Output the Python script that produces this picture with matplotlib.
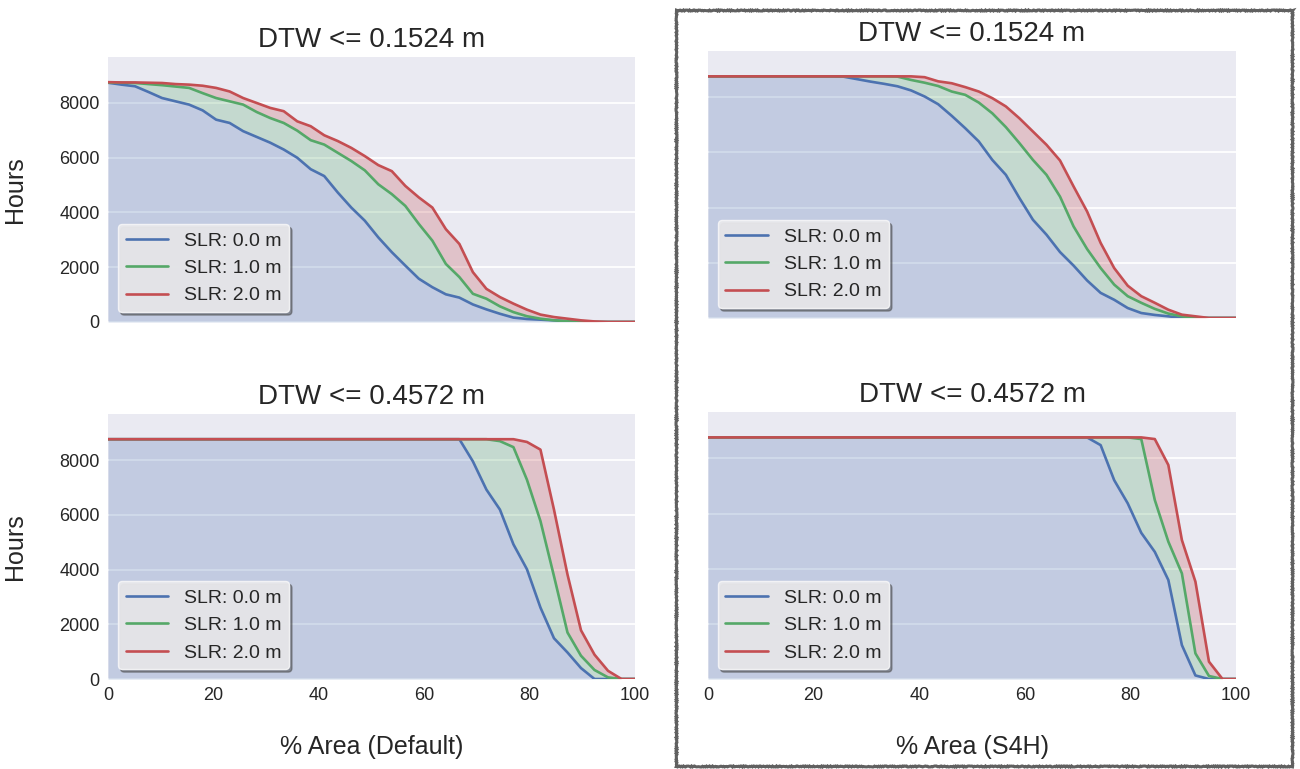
import numpy as np
import matplotlib.pyplot as plt
from matplotlib.patches import Rectangle

plt.style.use("seaborn-v0_8-darkgrid")
plt.rcParams['font.family'] = ['Liberation Sans', 'DejaVu Sans']

# percent of area, 40 samples
area = np.linspace(0, 100, 40)

labels = ["SLR: 0.0 m", "SLR: 1.0 m", "SLR: 2.0 m"]
titles = ["DTW <= 0.1524 m", "DTW <= 0.4572 m"]
xlabels = ["% Area (Default)", "% Area (S4H)"]
colors = ["#4C72B0", "#55A868", "#C44E52"]

# hours exceeded, default model, DTW <= 0.1524 m
def_015_slr0 = [8740, 8670, 8610, 8400, 8180, 8060, 7940, 7730, 7390, 7270,
                6970, 6760, 6550, 6300, 6000, 5580, 5330, 4730, 4180, 3700,
                3090, 2550, 2060, 1580, 1270, 1010, 890, 640, 460, 300,
                160, 110, 85, 60, 25, 0, 0, 0, 0, 0]
def_015_slr1 = [8740, 8740, 8730, 8690, 8650, 8600, 8550, 8360, 8180, 8060,
                7940, 7670, 7450, 7270, 6990, 6640, 6480, 6180, 5880, 5540,
                5030, 4670, 4240, 3580, 2970, 2120, 1640, 1030, 850, 570,
                360, 210, 120, 60, 25, 0, 0, 0, 0, 0]
def_015_slr2 = [8760, 8750, 8750, 8740, 8730, 8690, 8670, 8630, 8550, 8420,
                8180, 8000, 7820, 7700, 7330, 7150, 6820, 6610, 6360, 6060,
                5730, 5510, 4970, 4550, 4180, 3390, 2850, 1820, 1210, 910,
                670, 450, 270, 180, 120, 60, 20, 0, 0, 0]

# S4H model, DTW <= 0.1524 m
s4h_015_slr0 = [8760, 8760, 8760, 8760, 8760, 8760, 8760, 8760, 8760, 8760,
                8750, 8660, 8570, 8490, 8400, 8250, 8030, 7750, 7330, 6880,
                6400, 5730, 5190, 4350, 3560, 3020, 2390, 1900, 1360, 910,
                660, 360, 180, 110, 60, 0, 0, 0, 0, 0]
s4h_015_slr1 = [8760, 8760, 8760, 8760, 8760, 8760, 8760, 8760, 8760, 8760,
                8760, 8760, 8760, 8760, 8750, 8630, 8530, 8410, 8210, 8090,
                7810, 7420, 6920, 6340, 5730, 5190, 4400, 3320, 2500, 1810,
                1210, 790, 550, 330, 160, 60, 0, 0, 0, 0]
s4h_015_slr2 = [8760, 8760, 8760, 8760, 8760, 8760, 8760, 8760, 8760, 8760,
                8760, 8760, 8760, 8760, 8760, 8760, 8730, 8580, 8510, 8370,
                8210, 7970, 7670, 7240, 6760, 6280, 5710, 4770, 3860, 2720,
                1810, 1170, 790, 550, 300, 120, 60, 0, 0, 0]

# default model, DTW <= 0.4572 m
def_046_slr0 = [8760, 8760, 8760, 8760, 8760, 8760, 8760, 8760, 8760, 8760,
                8760, 8760, 8760, 8760, 8760, 8760, 8760, 8760, 8760, 8760,
                8760, 8760, 8760, 8760, 8760, 8760, 8760, 7950, 6920, 6190,
                4920, 4010, 2610, 1490, 970, 400, 0, 0, 0, 0]
def_046_slr1 = [8760, 8760, 8760, 8760, 8760, 8760, 8760, 8760, 8760, 8760,
                8760, 8760, 8760, 8760, 8760, 8760, 8760, 8760, 8760, 8760,
                8760, 8760, 8760, 8760, 8760, 8760, 8760, 8760, 8760, 8690,
                8470, 7280, 5770, 3760, 1700, 850, 330, 60, 0, 0]
def_046_slr2 = [8760, 8760, 8760, 8760, 8760, 8760, 8760, 8760, 8760, 8760,
                8760, 8760, 8760, 8760, 8760, 8760, 8760, 8760, 8760, 8760,
                8760, 8760, 8760, 8760, 8760, 8760, 8760, 8760, 8760, 8760,
                8760, 8660, 8380, 6190, 3820, 1780, 890, 300, 0, 0]

# S4H model, DTW <= 0.4572 m
s4h_046_slr0 = [8760, 8760, 8760, 8760, 8760, 8760, 8760, 8760, 8760, 8760,
                8760, 8760, 8760, 8760, 8760, 8760, 8760, 8760, 8760, 8760,
                8760, 8760, 8760, 8760, 8760, 8760, 8760, 8760, 8760, 8480,
                7210, 6370, 5300, 4610, 3590, 1230, 130, 0, 0, 0]
s4h_046_slr1 = [8760, 8760, 8760, 8760, 8760, 8760, 8760, 8760, 8760, 8760,
                8760, 8760, 8760, 8760, 8760, 8760, 8760, 8760, 8760, 8760,
                8760, 8760, 8760, 8760, 8760, 8760, 8760, 8760, 8760, 8760,
                8760, 8760, 8700, 6490, 4980, 3830, 930, 110, 0, 0]
s4h_046_slr2 = [8760, 8760, 8760, 8760, 8760, 8760, 8760, 8760, 8760, 8760,
                8760, 8760, 8760, 8760, 8760, 8760, 8760, 8760, 8760, 8760,
                8760, 8760, 8760, 8760, 8760, 8760, 8760, 8760, 8760, 8760,
                8760, 8760, 8760, 8700, 7760, 5040, 3530, 630, 0, 0]

panels = [
    [def_015_slr0, def_015_slr1, def_015_slr2],
    [s4h_015_slr0, s4h_015_slr1, s4h_015_slr2],
    [def_046_slr0, def_046_slr1, def_046_slr2],
    [s4h_046_slr0, s4h_046_slr1, s4h_046_slr2],
]

# axes boxes in figure fractions: left, bottom, width, height
boxes = [
    [0.0831, 0.5813, 0.4054, 0.3446],
    [0.5446, 0.5865, 0.4062, 0.3472],
    [0.0831, 0.1170, 0.4054, 0.3446],
    [0.5446, 0.1170, 0.4062, 0.3472],
]

fig = plt.figure(figsize=(13, 7.69), dpi=100)

for i, (box, series) in enumerate(zip(boxes, panels)):
    ax = fig.add_axes(box)
    blue, green, red = [np.array(s) for s in series]

    ax.fill_between(area, 0, blue, color=colors[0], alpha=0.25, lw=0)
    ax.fill_between(area, blue, green, color=colors[1], alpha=0.25, lw=0)
    ax.fill_between(area, green, red, color=colors[2], alpha=0.25, lw=0)
    for s, c, lab in zip(series, colors, labels):
        ax.plot(area, s, color=c, lw=1.9, label=lab)

    ax.set_xlim(0, 100)
    ax.set_ylim(0, 9680)
    ax.set_yticks([0, 2000, 4000, 6000, 8000])
    ax.set_xticks([0, 20, 40, 60, 80, 100])
    ax.grid(axis='x', visible=False)
    ax.grid(axis='y', color='white', lw=1.3)
    ax.tick_params(labelsize=13, colors='#262626', pad=6)
    ax.set_title(titles[i // 2], fontsize=20, pad=7)

    if i % 2 == 0:
        ax.set_ylabel("Hours", fontsize=18, labelpad=23)
    else:
        ax.set_yticklabels([])
    if i < 2:
        ax.set_xticklabels([])
    else:
        ax.set_xlabel(xlabels[i % 2], fontsize=18, labelpad=22)

    leg = ax.legend(loc='lower left', fontsize=14, frameon=True, fancybox=True,
                    shadow=True, framealpha=0.95, handlelength=2.2)
    leg.get_frame().set_facecolor('#E9E9EC')
    leg.get_frame().set_edgecolor('#F4F4F6')

# rough border around the S4H column
border = Rectangle((676 / 1300, 1 - 766 / 769), (1292 - 676) / 1300, (766 - 10) / 769,
                   transform=fig.transFigure, fill=False, edgecolor='#606060', lw=2.2)
border.set_sketch_params(scale=0.5, length=1.5, randomness=2)
fig.patches.append(border)

fig.savefig("out.png", dpi=100, facecolor='white')
